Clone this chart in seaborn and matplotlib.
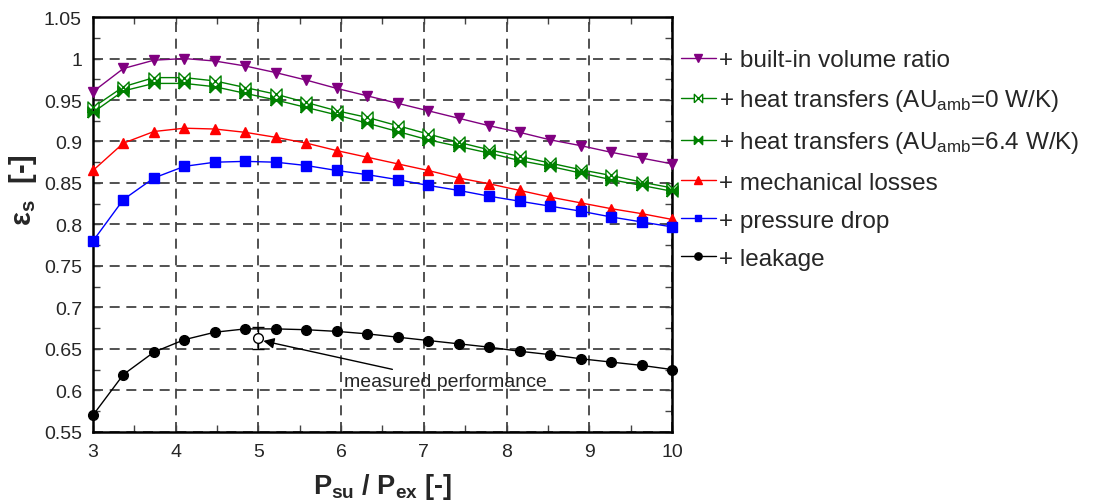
import numpy as np
import pandas as pd
import seaborn as sns
import matplotlib.pyplot as plt
from matplotlib.ticker import MultipleLocator

# pressure ratio values (x) and isentropic efficiency of each model step
pressure_ratio = [3.000, 3.368, 3.737, 4.105, 4.474, 4.842, 5.211, 5.579, 5.947, 6.316,
                  6.684, 7.053, 7.421, 7.789, 8.158, 8.526, 8.895, 9.263, 9.632, 10.000]
eff_volume_ratio = [0.960, 0.988, 0.998, 1.000, 0.997, 0.991, 0.983, 0.974, 0.964, 0.955,
                    0.946, 0.937, 0.928, 0.919, 0.911, 0.902, 0.895, 0.887, 0.880, 0.873]
eff_heat_0 = [0.941, 0.966, 0.977, 0.977, 0.973, 0.965, 0.957, 0.947, 0.937, 0.929,
              0.919, 0.909, 0.899, 0.890, 0.882, 0.874, 0.866, 0.859, 0.851, 0.844]
eff_heat_64 = [0.935, 0.961, 0.970, 0.970, 0.966, 0.958, 0.950, 0.941, 0.932, 0.922,
               0.912, 0.902, 0.894, 0.886, 0.877, 0.870, 0.862, 0.854, 0.847, 0.840]
eff_mech = [0.865, 0.898, 0.912, 0.916, 0.915, 0.911, 0.905, 0.898, 0.889, 0.881,
            0.873, 0.865, 0.856, 0.849, 0.841, 0.833, 0.826, 0.819, 0.813, 0.806]
eff_pdrop = [0.780, 0.830, 0.856, 0.870, 0.875, 0.876, 0.875, 0.871, 0.865, 0.860,
             0.854, 0.847, 0.841, 0.834, 0.828, 0.822, 0.816, 0.809, 0.803, 0.797]
eff_leak = [0.570, 0.619, 0.646, 0.661, 0.670, 0.674, 0.674, 0.673, 0.671, 0.668,
            0.664, 0.660, 0.656, 0.652, 0.647, 0.643, 0.638, 0.634, 0.630, 0.625]

measured_x = [5.0]
measured_y = [0.663]
measured_err = [0.0135]

y_ticklabels = ['0.55', '0.6', '0.65', '0.7', '0.75', '0.8', '0.85', '0.9',
                '0.95', '1', '1.05']

sns.set_style('ticks')
plt.rcParams['font.family'] = ['Liberation Sans', 'DejaVu Sans']
plt.rcParams['mathtext.fontset'] = 'custom'
plt.rcParams['mathtext.rm'] = 'Liberation Sans'
plt.rcParams['mathtext.it'] = 'Liberation Sans:italic'
plt.rcParams['mathtext.bf'] = 'Liberation Sans:bold'

# bowtie marker for the heat transfer curves
bowtie = [(-1, -1), (-1, 1), (1, -1), (1, 1), (-1, -1)]

fig = plt.figure(figsize=(11.07, 5.02), dpi=100)
ax = fig.add_axes([0.084, 0.138, 0.523, 0.826])

series = [
    (eff_volume_ratio, '+ built-in volume ratio', '#800080', 'v', '#800080', 7),
    (eff_heat_0, '+ heat transfers (AU$_{\\mathrm{amb}}$=0 W/K)', '#008000', bowtie, 'white', 8),
    (eff_heat_64, '+ heat transfers (AU$_{\\mathrm{amb}}$=6.4 W/K)', '#008000', bowtie, '#008000', 8),
    (eff_mech, '+ mechanical losses', '#ff0000', '^', '#ff0000', 7),
    (eff_pdrop, '+ pressure drop', '#0000ff', 's', '#0000ff', 6.5),
    (eff_leak, '+ leakage', 'black', 'o', 'black', 7),
]

for vals, label, col, mk, face, ms in series:
    df = pd.DataFrame({'ratio': pressure_ratio, 'eff': vals})
    sns.lineplot(data=df, x='ratio', y='eff', ax=ax, color=col, label=label,
                 marker=mk, markersize=ms, markerfacecolor=face, markeredgecolor=col,
                 markeredgewidth=1.0, linewidth=1.0, sort=False, estimator=None,
                 clip_on=False, zorder=3)

ax.errorbar(measured_x, measured_y, yerr=measured_err, fmt='o', color='black',
            markerfacecolor='white', markeredgecolor='black', markersize=7,
            elinewidth=1.0, capsize=4, zorder=4)

ax.annotate('measured performance', xy=(5.06, 0.6595), xytext=(6.04, 0.611),
            fontsize=14, va='center', ha='left',
            arrowprops=dict(arrowstyle='-|>', color='black', lw=1.0,
                            shrinkA=0, shrinkB=0, mutation_scale=16))

ax.set_xlim(3, 10)
ax.set_ylim(0.55, 1.05)
ax.xaxis.set_major_locator(MultipleLocator(1))
ax.xaxis.set_minor_locator(MultipleLocator(0.5))
ax.yaxis.set_minor_locator(MultipleLocator(0.025))
ax.set_yticks(np.arange(0.55, 1.0501, 0.05))
ax.set_yticklabels(y_ticklabels)
ax.tick_params(which='both', direction='in', top=True, right=True, labelsize=14,
               width=1.0, color='#444444')
ax.tick_params(which='major', length=5, pad=8)
ax.tick_params(which='minor', length=5)
ax.grid(True, which='major', linestyle=(0, (6, 4)), color='#333333', linewidth=1.2)
for s in ax.spines.values():
    s.set_linewidth(1.8)
    s.set_color('black')

ax.set_xlabel('P$_{\\mathbf{su}}$ / P$_{\\mathbf{ex}}$ [-]', fontsize=19.5,
              fontweight='bold', labelpad=8)
ax.set_ylabel('\u03b5$_{\\mathbf{s}}$  [-]', fontsize=21, fontweight='bold')
ax.yaxis.set_label_coords(-0.094, 0.585)

ax.legend(loc='upper left', bbox_to_anchor=(0.606, 0.919), bbox_transform=fig.transFigure,
          frameon=False, fontsize=17.5, handlelength=1.45, handletextpad=0.15,
          labelspacing=0.66, borderaxespad=0, markerscale=0.75)

fig.savefig('out.png', dpi=100)
